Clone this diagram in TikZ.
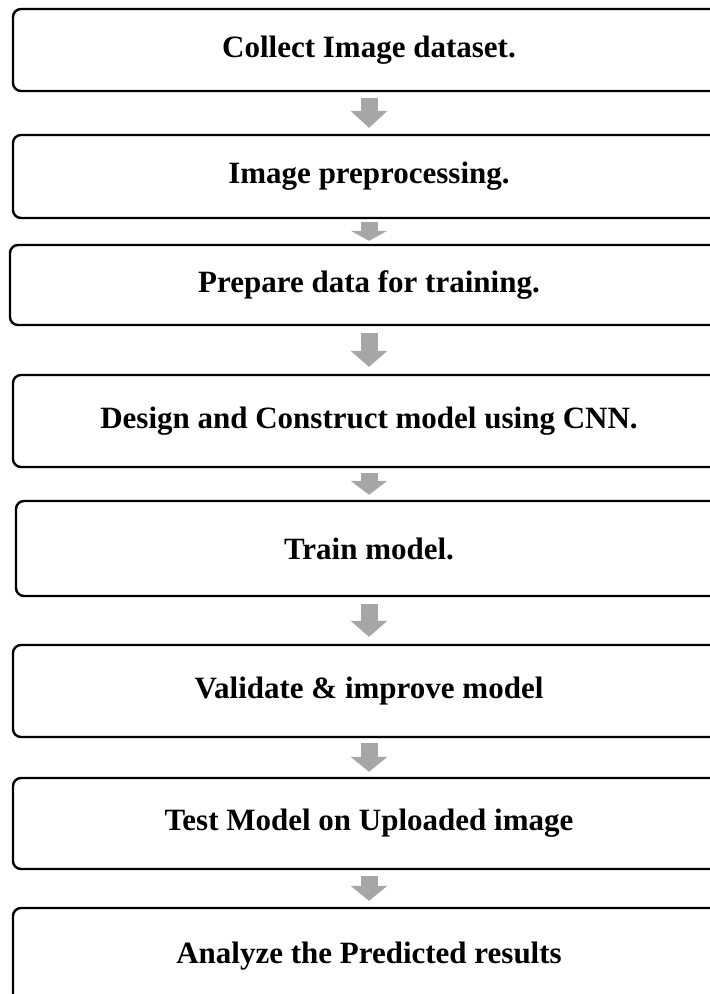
\documentclass[tikz,border=0pt]{standalone}
\usepackage{fontspec}
\setmainfont{Liberation Serif}
\usepackage{tikz}
\usetikzlibrary{arrows.meta}
\definecolor{frame}{RGB}{0, 0, 0}
\definecolor{flow}{RGB}{166, 166, 166}

\begin{document}
\begin{tikzpicture}[x=1pt, y=-1pt,
    stage/.style={draw=frame, line width=2.4pt, rounded corners=8pt, inner sep=0pt,
        font=\fontsize{31}{36}\selectfont\bfseries},
    flowarrow/.style={draw=flow, line width=17pt}]
\useasboundingbox (0,0) rectangle (710,994);
\clip (0,0) rectangle (710,994);

% stages of the pipeline
\node[stage, minimum width=712pt, minimum height=82pt] (collect) at (369,50) {Collect Image dataset.};
\node[stage, minimum width=712pt, minimum height=83pt] (preproc) at (369,176.5) {Image preprocessing.};
\node[stage, minimum width=718pt, minimum height=80pt] (prepare) at (369,285) {Prepare data for training.};
\node[stage, minimum width=712pt, minimum height=92pt] (design) at (369,421) {Design and Construct model using CNN.};
\node[stage, minimum width=706pt, minimum height=95pt] (train) at (369,548.5) {Train model.};
\node[stage, minimum width=712pt, minimum height=92pt] (validate) at (369,691) {Validate \& improve model};
\node[stage, minimum width=712pt, minimum height=91pt] (test) at (369,823.5) {Test Model on Uploaded image};
\node[stage, minimum width=712pt, minimum height=96pt] (analyze) at (369,956) {Analyze the Predicted results};

% gray block arrows
\foreach \from/\to/\gap/\hl in {collect/preproc/6/17, preproc/prepare/3/10, prepare/design/7/16,
    design/train/5/14, train/validate/7/16, validate/test/5/15, test/analyze/6/15} {
    \draw[flowarrow, -{Triangle[width=36pt, length=\hl pt]}, shorten <=\gap pt, shorten >=\gap pt]
        (\from.south) -- (\to.north);
}
\end{tikzpicture}
\end{document}
